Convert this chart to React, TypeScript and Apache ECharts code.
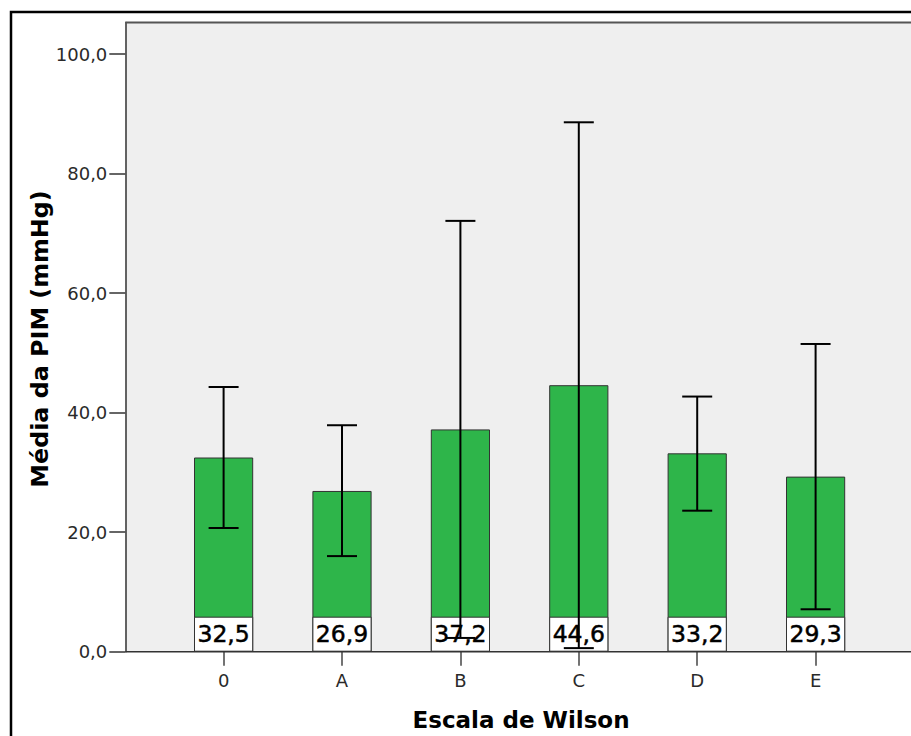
import React, { useEffect, useRef } from "react";
import * as echarts from "echarts";

const categories = ["0", "A", "B", "C", "D", "E"];
const means = [32.5, 26.9, 37.2, 44.6, 33.2, 29.3];
const upper = [44.3, 37.9, 72.1, 88.6, 42.7, 51.5];
const lower = [20.7, 16.0, 2.3, 0.6, 23.6, 7.1];
const yTicks = [0, 20, 40, 60, 80, 100];

const LABEL_BOX = 5.86;
const fmt = (v: number) => v.toFixed(1).replace(".", ",");

export default function App() {
  const ref = useRef<HTMLDivElement>(null);
  useEffect(() => {
    if (!ref.current) return;
    const chart = echarts.init(ref.current, null, { renderer: "svg" });
    const W = 911;
    const H = 736;
    const plotLeft = 125.3;
    const axisY = 651.7;
    const plotTop = 22.5;
    const gridLeft = 164.4;
    const gridRight = 874.8;
    const font = "DejaVu Sans";
    chart.setOption({
      animation: false,
      backgroundColor: "#ffffff",
      grid: {
        left: gridLeft,
        right: W - gridRight,
        top: plotTop,
        bottom: H - axisY,
        containLabel: false,
      },
      xAxis: {
        type: "category",
        data: categories,
        axisLine: { show: false },
        axisTick: { show: true, alignWithLabel: true, length: 14, lineStyle: { color: "#444", width: 1.5 } },
        axisLabel: { margin: 20, fontSize: 18, color: "#2a2a2a", fontFamily: font },
      },
      yAxis: {
        type: "value",
        min: 0,
        max: 105.3,
        interval: 20,
        offset: gridLeft - plotLeft,
        splitLine: { show: false },
        axisLine: { show: true, lineStyle: { color: "#333", width: 1.5 } },
        axisTick: { show: true, length: 16, customValues: yTicks, lineStyle: { color: "#333", width: 1.5 } },
        axisLabel: {
          customValues: yTicks,
          margin: 18,
          fontSize: 18,
          color: "#2a2a2a",
          fontFamily: font,
          formatter: (v: number) => fmt(v),
        },
      },
      graphic: [
        {
          type: "rect",
          z: -10,
          silent: true,
          shape: { x: plotLeft, y: plotTop, width: W - plotLeft + 20, height: axisY - plotTop },
          style: { fill: "#efefef" },
        },
        {
          type: "line",
          z: 5,
          silent: true,
          shape: { x1: plotLeft, y1: plotTop, x2: W + 10, y2: plotTop },
          style: { stroke: "#555", lineWidth: 2 },
        },
        {
          type: "line",
          z: 5,
          silent: true,
          shape: { x1: plotLeft, y1: axisY, x2: W + 10, y2: axisY },
          style: { stroke: "#333", lineWidth: 1.5 },
        },
        {
          type: "rect",
          z: 10,
          silent: true,
          shape: { x: 11, y: 12, width: W + 20, height: H + 20 },
          style: { fill: "none", stroke: "#000", lineWidth: 2.5 },
        },
        {
          type: "text",
          z: 10,
          x: 521,
          y: 720,
          style: {
            text: "Escala de Wilson",
            fontFamily: font,
            fontWeight: "bold",
            fontSize: 23,
            fill: "#000",
            textAlign: "center",
            textVerticalAlign: "middle",
          },
        },
        {
          type: "text",
          z: 10,
          x: 40,
          y: 339,
          rotation: Math.PI / 2,
          style: {
            text: "Média da PIM (mmHg)",
            fontFamily: font,
            fontWeight: "bold",
            fontSize: 23.8,
            fill: "#000",
            textAlign: "center",
            textVerticalAlign: "middle",
          },
        },
      ],
      series: [
        {
          type: "bar",
          data: means,
          barWidth: "50%",
          barGap: "-100%",
          itemStyle: { color: "#2eb54a", borderColor: "#333", borderWidth: 1 },
          z: 2,
        },
        {
          type: "bar",
          data: means.map(() => LABEL_BOX),
          barWidth: "50%",
          barGap: "-100%",
          itemStyle: { color: "#ffffff", borderColor: "#333", borderWidth: 1 },
          label: {
            show: true,
            position: "inside",
            fontFamily: font,
            fontSize: 23.5,
            color: "#000",
            textBorderColor: "#000",
            textBorderWidth: 0.5,
            formatter: (p: any) => fmt(means[p.dataIndex]),
          },
          z: 3,
        },
        {
          type: "custom",
          z: 4,
          data: categories.map((_, i) => [i, lower[i], upper[i]]),
          encode: { x: 0, y: [1, 2] },
          renderItem: (_params: any, api: any) => {
            const x = api.value(0);
            const pLo = api.coord([x, api.value(1)]);
            const pHi = api.coord([x, api.value(2)]);
            const half = 15;
            const st = { stroke: "#000", lineWidth: 2 };
            return {
              type: "group",
              children: [
                { type: "line", shape: { x1: pHi[0], y1: pHi[1], x2: pLo[0], y2: pLo[1] }, style: st },
                { type: "line", shape: { x1: pHi[0] - half, y1: pHi[1], x2: pHi[0] + half, y2: pHi[1] }, style: st },
                { type: "line", shape: { x1: pLo[0] - half, y1: pLo[1], x2: pLo[0] + half, y2: pLo[1] }, style: st },
              ],
            };
          },
        },
      ],
    });
    return () => chart.dispose();
  }, []);
  return (
    <div
      ref={ref}
      style={{ position: "fixed", left: 0, top: 0, width: 911, height: 736 }}
    />
  );
}
